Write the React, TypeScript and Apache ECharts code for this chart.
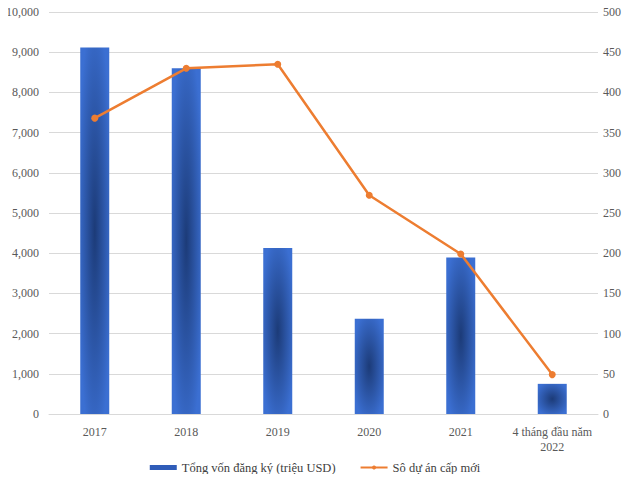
import React, { useEffect, useRef } from "react";
import * as echarts from "echarts";

const categories = ["2017", "2018", "2019", "2020", "2021", "4 tháng đầu năm\n2022"];
const capitalValues = [9120, 8600, 4130, 2370, 3890, 750];
const projectCounts = [368, 430, 435, 272, 199, 49];
const leftTicks = { min: 0, max: 10000, interval: 1000 };
const rightTicks = { min: 0, max: 500, interval: 50 };

export default function App() {
  const ref = useRef<HTMLDivElement>(null);
  useEffect(() => {
    const chart = echarts.init(ref.current!, null, { renderer: "svg" });
    const font = "'Liberation Serif', 'Times New Roman', serif";
    chart.setOption({
      animation: false,
      textStyle: { fontFamily: font },
      grid: { left: 49, right: 32, top: 12, bottom: 68, containLabel: false, outerBoundsMode: "none" },
      legend: {
        bottom: 3,
        left: "center",
        itemGap: 24,
        textStyle: { fontFamily: font, fontSize: 12.5, color: "#404040" },
        data: [
          { name: "Tổng vốn đăng ký (triệu USD)", icon: "rect", itemStyle: { color: "#2f5cb8" } },
          { name: "Sô dự án cấp mới" },
        ],
        itemWidth: 27,
        itemHeight: 5,
      },
      xAxis: {
        type: "category",
        data: categories,
        axisTick: { show: false },
        axisLine: { lineStyle: { color: "#d9d9d9" } },
        axisLabel: { color: "#595959", fontSize: 12, fontFamily: font, margin: 10, lineHeight: 15, interval: 0 },
      },
      yAxis: [
        {
          type: "value",
          ...leftTicks,
          axisLabel: {
            color: "#595959",
            fontSize: 12,
            fontFamily: font,
            margin: 10,
            formatter: (v: number) => v.toLocaleString("en-US"),
          },
          splitLine: { lineStyle: { color: "#d9d9d9" } },
          axisLine: { show: false },
        },
        {
          type: "value",
          ...rightTicks,
          axisLabel: { color: "#595959", fontSize: 12, fontFamily: font, margin: 5 },
          splitLine: { show: false },
          axisLine: { show: false },
        },
      ],
      series: [
        {
          name: "Tổng vốn đăng ký (triệu USD)",
          type: "bar",
          data: capitalValues,
          barWidth: 29,
          itemStyle: {
            color: new echarts.graphic.RadialGradient(0.5, 0.5, 0.6, [
              { offset: 0, color: "#1c3b78" },
              { offset: 1, color: "#3b6fd2" },
            ]),
          },
        },
        {
          name: "Sô dự án cấp mới",
          type: "line",
          yAxisIndex: 1,
          data: projectCounts,
          symbol: "circle",
          symbolSize: 7,
          lineStyle: { color: "#ed7d31", width: 2.5 },
          itemStyle: { color: "#ed7d31" },
        },
      ],
    });
    return () => chart.dispose();
  }, []);
  return <div ref={ref} style={{ width: 630, height: 482, margin: "-8px" }} />;
}
